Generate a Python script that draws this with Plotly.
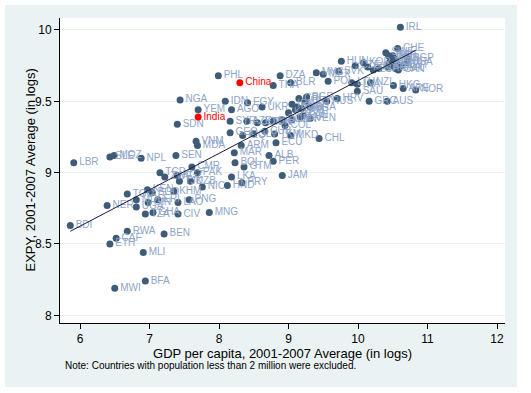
import numpy as np
import plotly.graph_objects as go

# ---- data ----
codes = [
    "BDI","LBR","SLE","MOZ","NPL","SEN","NER","UGA","TGO","MDG","GIN","TZA","GHA","CIV","LAO","PNG",
    "KHM","BGD","KEN","ERI","ZWE","TCD","KGZ","TJK","UZB","CMR","PAK","NIC","HND","MNG","BEN","RWA",
    "CAF","ETH","MLI","BFA","MWI",
    "SDN","NGA","YEM","VNM","MDA","PHL","IDN","AGO","EGY","UKR","SYR","AZE","JOR","TUN","DOM","LBN",
    "GEO","IRQ","SLV","CUB","TKM","MKD","ECU","ALB","PER","JAM","ARM","MAR","BOL","GTM","LKA","PRY","BIH",
    "CRI","URY","TUR","ROM","ARG","ZAF","BGR","BRA","VEN","PAN","KAZ","IRN","COL","RUS","HRV",
    "DZA","THA","BLR","MYS","MEX","SVK","POL","HUN","CZE","KOR","ISR","LTU","LVA","SAU","NZL","CHL",
    "GRC","AUS","HKG","ARE","NOR",
    "IRL","CHE","SWE","JPN","DEU","SGP","USA","NLD","DNK","FIN","AUT","BEL","GBR","FRA","CAN","ITA","ESP","KWT",
]
gdp = [
    5.86,5.91,6.43,6.49,6.88,7.38,6.39,6.81,6.68,6.81,6.98,6.94,7.05,7.41,7.41,7.57,
    7.35,7.04,6.97,7.12,7.22,7.15,7.40,7.43,7.59,7.61,7.69,7.76,8.12,7.86,7.21,6.68,
    6.52,6.43,6.91,6.94,6.50,
    7.40,7.44,7.70,7.67,7.69,7.99,8.09,8.18,8.41,8.62,8.16,8.40,8.55,8.67,8.91,9.05,
    8.16,8.34,8.50,8.66,8.80,9.03,8.82,8.72,8.78,8.91,8.32,8.22,8.23,8.36,8.18,8.33,8.78,
    9.15,9.24,9.12,9.10,9.19,9.17,9.26,9.31,9.31,9.21,9.00,9.05,8.95,9.55,9.70,
    8.88,8.78,9.03,9.40,9.50,9.72,9.57,9.76,9.96,10.08,10.14,9.91,9.99,9.99,10.18,9.44,
    10.16,10.42,10.51,10.65,10.83,
    10.61,10.57,10.40,10.44,10.47,10.71,10.70,10.52,10.55,10.45,10.50,10.48,10.54,10.43,10.58,10.30,10.22,10.62,
]
expy = [
    8.63,9.07,9.11,9.12,9.10,9.12,8.77,8.76,8.85,8.81,8.79,8.71,8.72,8.71,8.79,8.81,
    8.87,8.86,8.88,8.81,8.97,9.00,8.98,8.94,8.94,9.04,9.00,8.90,8.91,8.72,8.57,8.59,
    8.54,8.50,8.44,8.24,8.19,
    9.34,9.51,9.44,9.22,9.19,9.68,9.50,9.44,9.49,9.46,9.36,9.36,9.35,9.35,9.37,9.37,
    9.28,9.26,9.27,9.29,9.27,9.26,9.21,9.12,9.08,8.98,9.19,9.14,9.07,9.04,8.97,8.93,9.36,
    9.52,9.50,9.46,9.44,9.45,9.39,9.53,9.46,9.38,9.40,9.42,9.48,9.33,9.50,9.52,
    9.68,9.61,9.63,9.70,9.69,9.71,9.64,9.78,9.75,9.77,9.74,9.63,9.62,9.57,9.63,9.24,
    9.50,9.50,9.61,9.59,9.58,
    10.02,9.87,9.84,9.82,9.80,9.80,9.77,9.80,9.78,9.77,9.82,9.75,9.73,9.74,9.72,9.73,9.72,9.75,
]
hl_names = ["India", "China"]
hl_gdp = [7.70, 8.30]
hl_expy = [9.39, 9.63]

x_ticks = [6, 7, 8, 9, 10, 11, 12]
y_ticks = [8, 8.5, 9, 9.5, 10]

MARK = "#3e5c77"
LAB = "#8ea4c8"
BG = "#eaf2f3"
FONT = "Liberation Sans, Arial, sans-serif"

fig = go.Figure()

fig.add_trace(go.Scatter(
    x=gdp, y=expy, text=codes, mode="markers+text", textposition="middle right",
    marker=dict(color=MARK, size=7), textfont=dict(color=LAB, size=10, family=FONT),
    cliponaxis=False, showlegend=False, hoverinfo="skip"))

fig.add_trace(go.Scatter(
    x=hl_gdp, y=hl_expy, text=hl_names, mode="markers+text", textposition="middle right",
    marker=dict(color="#ff0000", size=7), textfont=dict(color="#ff0000", size=10, family=FONT),
    cliponaxis=False, showlegend=False, hoverinfo="skip"))

all_x = np.array(gdp + hl_gdp)
all_y = np.array(expy + hl_expy)
b, a = np.polyfit(all_x, all_y, 1)
lx = np.array([all_x.min(), all_x.max()])
fig.add_trace(go.Scatter(x=lx, y=a + b * lx, mode="lines",
                         line=dict(color="#1a1a40", width=1), showlegend=False,
                         hoverinfo="skip"))

W, H = 531, 393
L, R, T, B = 60, 26, 18, 70
pw, ph = W - L - R, H - T - B

def px_x(p):
    return (p - L) / pw

def px_y(p):
    return (H - B - p) / ph

fig.update_layout(
    width=W, height=H,
    margin=dict(l=L, r=R, t=T, b=B),
    paper_bgcolor="white", plot_bgcolor="white",
    font=dict(family=FONT, color="black", size=12),
    shapes=[
        dict(type="rect", xref="paper", yref="paper", layer="below",
             x0=px_x(5), x1=px_x(517), y0=px_y(387), y1=px_y(5),
             fillcolor=BG, line=dict(width=0)),
        dict(type="rect", xref="paper", yref="paper", layer="below",
             x0=0, x1=1, y0=0, y1=1, fillcolor="white", line=dict(width=0)),
    ],
    xaxis=dict(range=[5.712, 12.115], tickvals=x_ticks, ticks="outside", ticklen=5,
               tickcolor="black", showline=True, linecolor="black", linewidth=1,
               showgrid=False, zeroline=False, tickfont=dict(size=12),
               title=dict(text="GDP per capita, 2001-2007 Average (in logs)",
                          font=dict(size=13), standoff=2)),
    yaxis=dict(range=[7.946, 10.084], tickvals=y_ticks, ticks="outside", ticklen=5,
               tickcolor="black", showline=True, linecolor="black", linewidth=1,
               showgrid=True, gridcolor=BG, gridwidth=1, zeroline=False,
               tickfont=dict(size=12)),
    annotations=[
        dict(text="EXPY, 2001-2007 Average (in logs)", textangle=-90,
             xref="paper", yref="paper", x=px_x(30), y=0.5,
             xanchor="center", yanchor="middle", showarrow=False,
             font=dict(size=13, family=FONT, color="black")),
        dict(text="Note: Countries with population less than 2 million were excluded.",
             xref="paper", yref="paper", x=px_x(63), y=px_y(365),
             xanchor="left", yanchor="middle", showarrow=False,
             font=dict(size=10, family=FONT, color="black")),
    ],
)

fig.write_html("out.html", config={"displayModeBar": False},
               post_script="document.body.style.margin='0';")
